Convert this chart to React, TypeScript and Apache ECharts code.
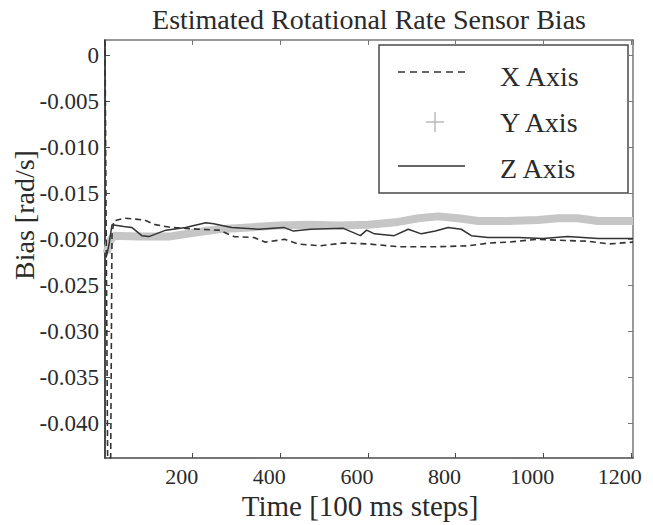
import React, { useEffect, useRef } from "react";
import * as echarts from "echarts";

const titleText = "Estimated Rotational Rate Sensor Bias";
const xAxisName = "Time [100 ms steps]";
const yAxisName = "Bias [rad/s]";
const legendNames = ["X Axis", "Y Axis", "Z Axis"];

const yTicks = [-0.04, -0.035, -0.03, -0.025, -0.02, -0.015, -0.01, -0.005, 0];

// [time step, bias rad/s]
const xAxisSeries: [number, number][] = [
  [0, 0.0017], [6, -0.0438], [13, -0.0438], [16, -0.0195], [20, -0.018], [45, -0.0177],
  [70, -0.0178], [90, -0.0179], [115, -0.0184], [150, -0.0187], [185, -0.0188],
  [215, -0.0189], [260, -0.019], [295, -0.0197], [340, -0.0198], [365, -0.0203],
  [410, -0.02], [440, -0.0205], [490, -0.0207], [545, -0.0204], [600, -0.0205],
  [670, -0.0208], [760, -0.0208], [830, -0.0207], [875, -0.0204], [920, -0.0203],
  [985, -0.02], [1035, -0.0201], [1100, -0.0202], [1150, -0.0205], [1205, -0.0203],
];

const yAxisSeries: [number, number][] = [
  [4, -0.0215], [10, -0.0203], [20, -0.0196], [77, -0.0197], [146, -0.0197],
  [214, -0.0192], [260, -0.0189], [328, -0.0187], [396, -0.0185], [464, -0.0184],
  [533, -0.0185], [601, -0.0184], [669, -0.0181], [715, -0.0177], [760, -0.0175],
  [806, -0.0177], [852, -0.018], [920, -0.018], [988, -0.0179], [1034, -0.0177],
  [1079, -0.0177], [1125, -0.018], [1205, -0.018],
];

const zAxisSeries: [number, number][] = [
  [2, -0.022], [5, -0.0215], [9, -0.0206], [16, -0.0184], [43, -0.0186], [61, -0.0187],
  [84, -0.0196], [100, -0.0197], [139, -0.019], [184, -0.0187], [230, -0.0182],
  [248, -0.0183], [289, -0.0187], [351, -0.0189], [408, -0.0187], [430, -0.0191],
  [469, -0.0189], [544, -0.0188], [583, -0.0196], [597, -0.019], [615, -0.0194],
  [660, -0.0196], [692, -0.0189], [722, -0.0194], [754, -0.0191], [783, -0.0187],
  [813, -0.0189], [836, -0.0196], [874, -0.0198], [943, -0.0198], [1000, -0.0199],
  [1056, -0.0197], [1125, -0.0199], [1205, -0.0199],
];

const FONT = "Liberation Serif";
const TXT = "#2a2a2a";
const AX = "#4a4a4a";

export default function App() {
  const ref = useRef<HTMLDivElement>(null);
  useEffect(() => {
    if (!ref.current) return;
    const chart = echarts.init(ref.current, undefined, { renderer: "svg" });
    const grid = { left: 105, right: 20, top: 40, bottom: 67 };
    chart.setOption({
      animation: false,
      backgroundColor: "#ffffff",
      grid,
      xAxis: [
        {
          type: "value",
          position: "bottom",
          min: 0,
          max: 1205,
          interval: 200,
          axisLine: { onZero: false, lineStyle: { color: AX, width: 1.5 } },
          axisTick: { inside: true, length: 5, lineStyle: { color: AX } },
          splitLine: { show: false },
          axisLabel: {
            fontFamily: FONT,
            fontSize: 22,
            color: TXT,
            margin: 7,
            padding: [0, 22, 0, 0],
            formatter: (v: number) => (v === 0 ? "" : String(v)),
          },
        },
        {
          type: "value",
          position: "top",
          min: 0,
          max: 1205,
          interval: 200,
          axisLine: { onZero: false, lineStyle: { color: "#777", width: 1.5 } },
          axisTick: { inside: true, length: 5, lineStyle: { color: "#777" } },
          axisLabel: { show: false },
          splitLine: { show: false },
        },
      ],
      yAxis: [
        {
          type: "value",
          position: "left",
          min: -0.0438,
          max: 0.0017,
          axisLine: { onZero: false, lineStyle: { color: AX, width: 2 } },
          axisTick: { inside: true, length: 5, lineStyle: { color: AX }, customValues: yTicks },
          splitLine: { show: false },
          axisLabel: {
            fontFamily: FONT,
            fontSize: 23,
            color: TXT,
            margin: 6,
            customValues: yTicks,
            formatter: (v: number) => (Math.abs(v) < 1e-9 ? "0" : v.toFixed(3)),
          },
        },
        {
          type: "value",
          position: "right",
          min: -0.0438,
          max: 0.0017,
          axisLine: { onZero: false, lineStyle: { color: "#777", width: 1.5 } },
          axisTick: { inside: true, length: 5, lineStyle: { color: "#777" }, customValues: yTicks },
          axisLabel: { show: false, customValues: yTicks },
          splitLine: { show: false },
        },
      ],
      series: [
        {
          name: legendNames[1],
          type: "line",
          data: yAxisSeries,
          showSymbol: false,
          lineStyle: { color: "#c6c6c6", width: 8 },
          z: 1,
        },
        {
          name: legendNames[0],
          type: "line",
          data: xAxisSeries,
          showSymbol: false,
          lineStyle: { color: "#333", width: 1.6, type: [6, 4] },
          z: 2,
        },
        {
          name: legendNames[2],
          type: "line",
          data: zAxisSeries,
          showSymbol: false,
          lineStyle: { color: "#333", width: 1.5 },
          z: 3,
        },
      ],
      graphic: [
        {
          type: "text",
          x: 369,
          y: 19,
          style: { text: titleText, font: `28px "${FONT}"`, fill: TXT, textAlign: "center", textVerticalAlign: "middle" },
        },
        {
          type: "text",
          x: 360,
          y: 506,
          style: { text: xAxisName, font: `29px "${FONT}"`, fill: TXT, textAlign: "center", textVerticalAlign: "middle" },
        },
        {
          type: "text",
          x: 24,
          y: 215,
          rotation: Math.PI / 2,
          style: { text: yAxisName, font: `28px "${FONT}"`, fill: TXT, textAlign: "center", textVerticalAlign: "middle" },
        },
        {
          type: "group",
          z: 100,
          children: [
            {
              type: "rect",
              shape: { x: 379, y: 45, width: 249, height: 148 },
              style: { fill: "#ffffff", stroke: AX, lineWidth: 1.5 },
            },
            {
              type: "line",
              shape: { x1: 398, y1: 72, x2: 465, y2: 72 },
              style: { stroke: "#333", lineWidth: 1.5, lineDash: [7, 5] },
            },
            {
              type: "line",
              shape: { x1: 426, y1: 122, x2: 444, y2: 122 },
              style: { stroke: "#bbb", lineWidth: 1.5 },
            },
            {
              type: "line",
              shape: { x1: 435, y1: 112, x2: 435, y2: 132 },
              style: { stroke: "#bbb", lineWidth: 1.5 },
            },
            {
              type: "line",
              shape: { x1: 398, y1: 166, x2: 465, y2: 166 },
              style: { stroke: "#333", lineWidth: 1.5 },
            },
            {
              type: "text",
              x: 500,
              y: 76,
              style: { text: legendNames[0], font: `28px "${FONT}"`, fill: TXT, textVerticalAlign: "middle" },
            },
            {
              type: "text",
              x: 500,
              y: 122,
              style: { text: legendNames[1], font: `28px "${FONT}"`, fill: TXT, textVerticalAlign: "middle" },
            },
            {
              type: "text",
              x: 500,
              y: 168,
              style: { text: legendNames[2], font: `28px "${FONT}"`, fill: TXT, textVerticalAlign: "middle" },
            },
          ],
        },
      ],
    });
    return () => chart.dispose();
  }, []);
  return <div ref={ref} style={{ width: 653, height: 525, position: "absolute", left: 0, top: 0 }} />;
}
